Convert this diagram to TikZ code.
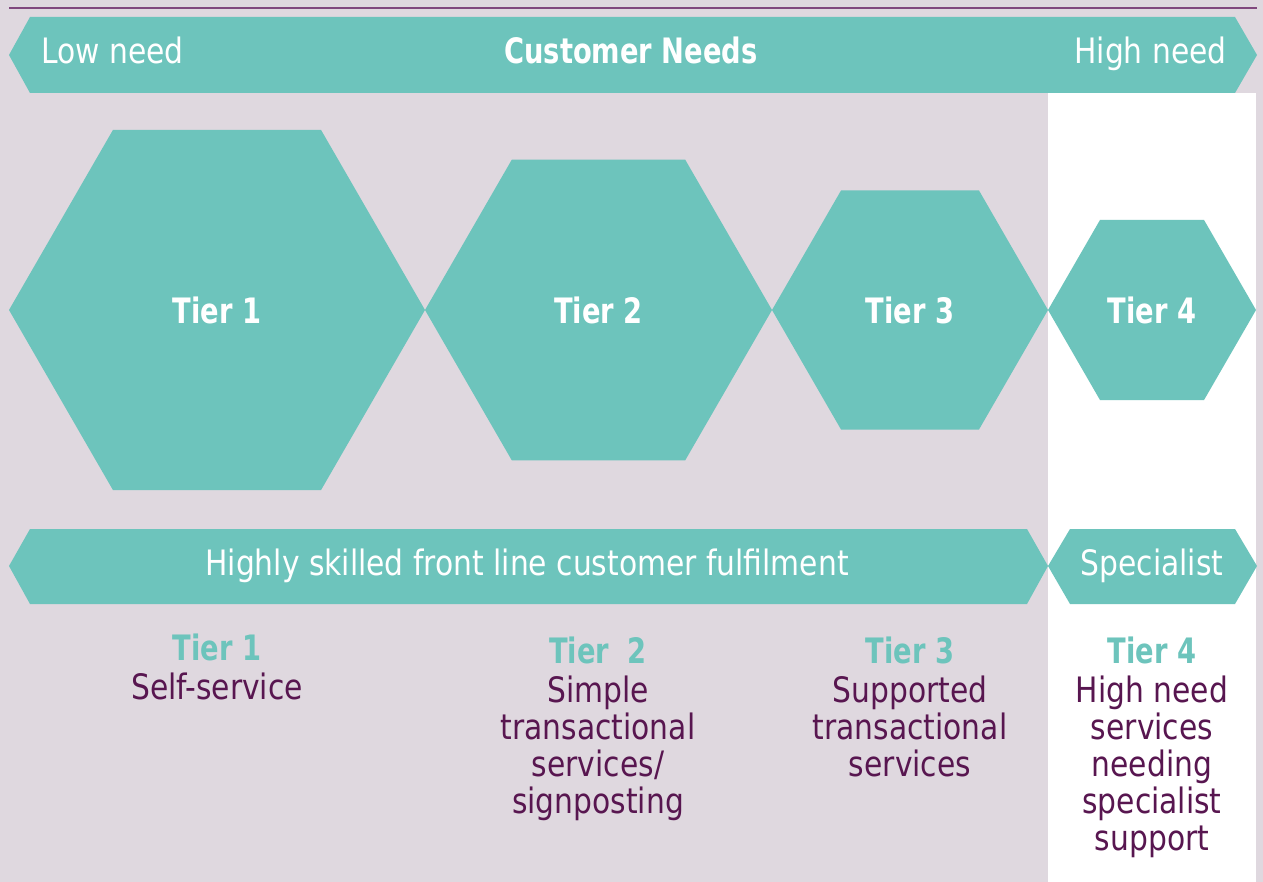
\documentclass[tikz,border=0pt]{standalone}
\usepackage{fontspec}
\setmainfont[FakeStretch=0.85, BoldFeatures={FakeStretch=0.78}]{DejaVu Sans}
\usetikzlibrary{positioning}
\definecolor{tiergreen}{RGB}{109,196,188}
\definecolor{backmauve}{RGB}{223,216,223}
\definecolor{textplum}{RGB}{88,22,80}
\definecolor{lineplum}{RGB}{128,72,126}
\tikzset{
    bartext/.style={text=white, inner sep=0pt, anchor=base, font=\fontsize{17.5}{21}\selectfont},
    hexlabel/.style={text=white, inner sep=0pt, anchor=base, font=\fontsize{17.5}{21}\selectfont\bfseries},
    tiertitle/.style={text=tiergreen, inner sep=0pt, anchor=base, font=\fontsize{17.5}{21}\selectfont\bfseries},
    tierdesc/.style={text=textplum, inner sep=0pt, align=center, font=\fontsize{17.5}{18.5}\selectfont}
}
\begin{document}
\begin{tikzpicture}[x=0.5pt,y=-0.5pt]
    \useasboundingbox (0,0) rectangle (1263,882);
    \fill[backmauve] (0,0) rectangle (1263,882);
    \fill[white] (1048,93) rectangle (1256,882);
    \draw[lineplum, line width=0.6pt] (9,8) -- (1257,8);
    % customer needs banner
    \fill[tiergreen] (9,55) -- (30,17) -- (1235,17) -- (1257,55) -- (1235,93) -- (30,93) -- cycle;
    \node[bartext, anchor=base west] (lowneed) at (41,64) {Low need};
    \node[bartext, font=\fontsize{17.5}{21}\selectfont\bfseries] (needs) at (631,64) {Customer Needs};
    \node[bartext, anchor=base east] (highneed) at (1227,64) {High need};
    % tiers
    \foreach \n/\cx/\r in {1/217/208, 2/598.5/173.5, 3/910/138, 4/1152/104} {
        \fill[tiergreen] (\cx,310) ++(-\r,0) -- ++(0.5*\r,-0.866*\r) -- ++(\r,0)
            -- ++(0.5*\r,0.866*\r) -- ++(-0.5*\r,0.866*\r) -- ++(-\r,0) -- cycle;
        \node[hexlabel] (hex\n) at (\cx,323) {Tier \n};
    }
    % fulfilment banners
    \fill[tiergreen] (9,566) -- (30,529) -- (1027,529) -- (1048,566) -- (1027,604) -- (30,604) -- cycle;
    \fill[tiergreen] (1048,566) -- (1070,529) -- (1235,529) -- (1257,566) -- (1235,604) -- (1070,604) -- cycle;
    \node[bartext] (frontline) at (527,575) {Highly skilled front line customer fulfilment};
    \node[bartext] (specialist) at (1152,575) {Specialist};
    % descriptions
    \node[tiertitle] (title1) at (217,660) {Tier 1};
    \node[tierdesc, below=6pt of title1] (desc1) {Self-service};
    \node[tiertitle] (title2) at (598,663) {Tier \ 2};
    \node[tierdesc, below=6pt of title2] (desc2) {Simple\\transactional\\services/\\signposting};
    \node[tiertitle] (title3) at (910,663) {Tier 3};
    \node[tierdesc, below=6pt of title3] (desc3) {Supported\\transactional\\services};
    \node[tiertitle] (title4) at (1152,663) {Tier 4};
    \node[tierdesc, below=6pt of title4] (desc4) {High need\\services\\needing\\specialist\\support};
\end{tikzpicture}
\end{document}
